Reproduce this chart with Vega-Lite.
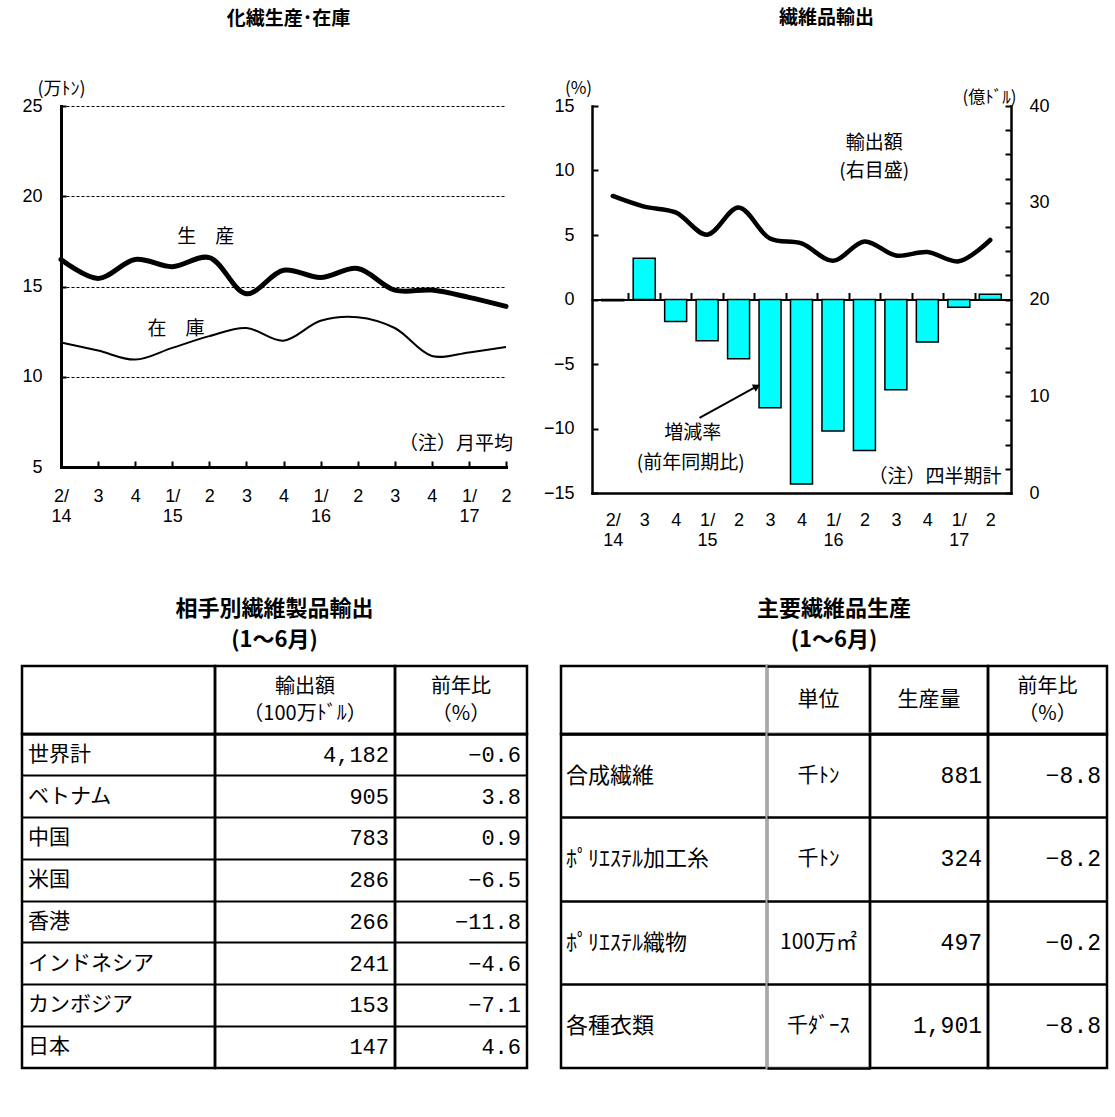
{
  "$schema": "https://vega.github.io/schema/vega-lite/v6.json",
  "autosize": {"type": "none"},
  "padding": {"left": 22, "top": 106, "right": 1093, "bottom": 1011},
  "background": "white",
  "config": {
    "view": {"stroke": null},
    "font": "Noto Sans CJK JP",
    "axis": {"labelColor": "black", "titleColor": "black", "domainColor": "black", "tickColor": "black", "domainCap": "square"},
    "text": {"color": "black"}
  },
  "datasets": {
    "qs": [
      {"idx": 0, "prod": 16.5, "stock": 11.9, "pct": -0.1, "amt": 30.7},
      {"idx": 1, "prod": 15.45, "stock": 11.45, "pct": 3.2, "amt": 29.6},
      {"idx": 2, "prod": 16.5, "stock": 10.95, "pct": -1.7, "amt": 29.0},
      {"idx": 3, "prod": 16.1, "stock": 11.6, "pct": -3.2, "amt": 26.7},
      {"idx": 4, "prod": 16.6, "stock": 12.25, "pct": -4.6, "amt": 29.5},
      {"idx": 5, "prod": 14.6, "stock": 12.7, "pct": -8.4, "amt": 26.3},
      {"idx": 6, "prod": 15.9, "stock": 12.0, "pct": -14.3, "amt": 25.8},
      {"idx": 7, "prod": 15.5, "stock": 13.1, "pct": -10.2, "amt": 24.0},
      {"idx": 8, "prod": 16.0, "stock": 13.3, "pct": -11.7, "amt": 26.0},
      {"idx": 9, "prod": 14.8, "stock": 12.7, "pct": -7.0, "amt": 24.55},
      {"idx": 10, "prod": 14.8, "stock": 11.15, "pct": -3.3, "amt": 24.9},
      {"idx": 11, "prod": 14.4, "stock": 11.35, "pct": -0.6, "amt": 23.95},
      {"idx": 12, "prod": 13.9, "stock": 11.65, "pct": 0.4, "amt": 26.15}
    ],
    "t1": [
      {"name": "世界計", "amt": 4182, "yoy": -0.6},
      {"name": "ベトナム", "amt": 905, "yoy": 3.8},
      {"name": "中国", "amt": 783, "yoy": 0.9},
      {"name": "米国", "amt": 286, "yoy": -6.5},
      {"name": "香港", "amt": 266, "yoy": -11.8},
      {"name": "インドネシア", "amt": 241, "yoy": -4.6},
      {"name": "カンボジア", "amt": 153, "yoy": -7.1},
      {"name": "日本", "amt": 147, "yoy": 4.6}
    ],
    "t2": [
      {"name": "合成繊維", "unit": "千ﾄﾝ", "prod": 881, "yoy": -8.8},
      {"name": "ﾎﾟﾘｴｽﾃﾙ加工糸", "unit": "千ﾄﾝ", "prod": 324, "yoy": -8.2},
      {"name": "ﾎﾟﾘｴｽﾃﾙ織物", "unit": "100万㎡", "prod": 497, "yoy": -0.2},
      {"name": "各種衣類", "unit": "千ﾀﾞｰｽ", "prod": 1901, "yoy": -8.8}
    ],
    "blank": [{}]
  },
  "spacing": 47,
  "vconcat": [
    {
      "bounds": "flush",
      "spacing": 0,
      "hconcat": [
        {"width": 39, "height": 1, "data": {"name": "blank"}, "mark": "text", "encoding": {"text": {"value": ""}}},
        {
          "width": 445,
          "height": 361,
          "title": {"text": "化繊生産･在庫", "frame": "group", "anchor": "middle", "baseline": "middle", "offset": 42, "dx": 5, "fontSize": 19, "fontWeight": "bold", "font": "Noto Sans CJK JP", "color": "black"},
          "resolve": {"axis": {"x": "independent", "y": "independent"}},
          "layer": [
            {
              "data": {"name": "qs"},
              "mark": {"type": "line", "color": "black", "strokeWidth": 5, "interpolate": "catmull-rom", "strokeCap": "round"},
              "encoding": {
                "x": {"field": "idx", "type": "quantitative", "scale": {"domain": [0, 12], "nice": false, "zero": false},
                  "axis": {"values": [0,1,2,3,4,5,6,7,8,9,10,11,12],
                    "labelExpr": "[['2/','14'],['3'],['4'],['1/','15'],['2'],['3'],['4'],['1/','16'],['2'],['3'],['4'],['1/','17'],['2']][datum.value]",
                    "labelFlush": false, "labelOverlap": false, "labelAlign": "center", "labelBaseline": "top", "labelLineHeight": 20,
                    "labelFont": "Liberation Sans", "labelFontSize": 18, "labelPadding": 26,
                    "tickSize": -6, "tickWidth": 2, "domainWidth": 3, "grid": false, "title": null}},
                "y": {"field": "prod", "type": "quantitative", "scale": {"domain": [5, 25], "nice": false, "zero": false},
                  "axis": {"values": [5, 10, 15, 20, 25], "grid": true, "gridDash": [3, 2], "gridColor": "black", "gridWidth": 1, "gridOpacity": 1,
                    "tickSize": -5, "tickWidth": 2, "domainWidth": 3, "labelFont": "Liberation Sans", "labelFontSize": 18, "labelPadding": 24, "labelFlush": false,
                    "title": "(万ﾄﾝ)", "titleAngle": 0, "titleX": 0, "titleY": -17, "titleAlign": "center", "titleBaseline": "middle",
                    "titleFont": "Noto Sans CJK JP", "titleFontSize": 18, "titleFontWeight": "normal"}}
              }
            },
            {
              "data": {"name": "qs"},
              "mark": {"type": "line", "color": "black", "strokeWidth": 2, "interpolate": "catmull-rom"},
              "encoding": {
                "x": {"field": "idx", "type": "quantitative", "scale": {"domain": [0, 12], "nice": false, "zero": false}, "axis": null},
                "y": {"field": "stock", "type": "quantitative", "scale": {"domain": [5, 25], "nice": false, "zero": false}, "axis": null}
              }
            },
            {
              "data": {"values": [
                {"x": 3.9, "y": 17.74, "t": "生　産"},
                {"x": 3.1, "y": 12.67, "t": "在　庫"},
                {"x": 10.65, "y": 6.27, "t": "（注）月平均"}
              ]},
              "mark": {"type": "text", "font": "Noto Sans CJK JP", "fontSize": 19, "color": "black"},
              "encoding": {
                "x": {"field": "x", "type": "quantitative", "scale": {"domain": [0, 12], "nice": false, "zero": false}, "axis": null},
                "y": {"field": "y", "type": "quantitative", "scale": {"domain": [5, 25], "nice": false, "zero": false}, "axis": null},
                "text": {"field": "t"}
              }
            }
          ]
        },
        {"width": 86, "height": 1, "data": {"name": "blank"}, "mark": "text", "encoding": {"text": {"value": ""}}},
        {
          "width": 419,
          "height": 387,
          "title": {"text": "繊維品輸出", "frame": "group", "anchor": "middle", "baseline": "middle", "offset": 42, "dx": 25, "fontSize": 19, "fontWeight": "bold", "font": "Noto Sans CJK JP", "color": "black"},
          "resolve": {"scale": {"y": "independent"}, "axis": {"x": "independent"}},
          "layer": [
            {
              "resolve": {"axis": {"x": "independent", "y": "independent"}},
              "layer": [
                {
                  "data": {"name": "qs"},
                  "mark": {"type": "bar", "size": 22, "fill": "#00FFFF", "stroke": "black", "strokeWidth": 1.5},
                  "encoding": {
                    "x": {"field": "idx", "type": "quantitative", "scale": {"domain": [-0.5, 12.5], "nice": false, "zero": false},
                      "axis": {"orient": "bottom", "values": [0,1,2,3,4,5,6,7,8,9,10,11,12],
                        "labelExpr": "[['2/','14'],['3'],['4'],['1/','15'],['2'],['3'],['4'],['1/','16'],['2'],['3'],['4'],['1/','17'],['2']][datum.value]",
                        "labelFlush": false, "labelOverlap": false, "labelAlign": "center", "labelBaseline": "top", "labelLineHeight": 20,
                        "labelFont": "Liberation Sans", "labelFontSize": 18, "labelPadding": 18,
                        "ticks": false, "domainWidth": 2.5, "grid": false, "title": null}},
                    "y": {"field": "pct", "type": "quantitative", "scale": {"domain": [-15, 15], "nice": false},
                      "axis": {"orient": "left", "values": [-15, -10, -5, 0, 5, 10, 15], "grid": false, "tickSize": -6, "tickWidth": 2, "domainWidth": 2.5,
                        "labelFont": "Liberation Sans", "labelFontSize": 18, "labelPadding": 24, "labelFlush": false,
                        "title": "(%)", "titleAngle": 0, "titleX": -14, "titleY": -18, "titleAlign": "center", "titleBaseline": "middle",
                        "titleFont": "Noto Sans CJK JP", "titleFontSize": 17, "titleFontWeight": "normal"}}
                  }
                },
                {
                  "data": {"values": [
                    {"x": 8.31, "y": 12.12, "t": "輸出額"},
                    {"x": 8.31, "y": 9.95, "t": "(右目盛)"},
                    {"x": 2.54, "y": -10.33, "t": "増減率"},
                    {"x": 2.48, "y": -12.67, "t": "(前年同期比)"},
                    {"x": 10.24, "y": -13.79, "t": "（注）四半期計"}
                  ]},
                  "mark": {"type": "text", "font": "Noto Sans CJK JP", "fontSize": 19, "color": "black"},
                  "encoding": {
                    "x": {"field": "x", "type": "quantitative", "scale": {"domain": [-0.5, 12.5], "nice": false, "zero": false}, "axis": null},
                    "y": {"field": "y", "type": "quantitative", "scale": {"domain": [-15, 15], "nice": false}, "axis": null},
                    "text": {"field": "t"}
                  }
                },
                {
                  "data": {"values": [{"x": 2.76, "y": -9.17, "x2": 4.62, "y2": -6.68}]},
                  "mark": {"type": "rule", "color": "black", "strokeWidth": 2},
                  "encoding": {
                    "x": {"field": "x", "type": "quantitative", "scale": {"domain": [-0.5, 12.5], "nice": false, "zero": false}, "axis": null},
                    "y": {"field": "y", "type": "quantitative", "scale": {"domain": [-15, 15], "nice": false}, "axis": null},
                    "x2": {"field": "x2"},
                    "y2": {"field": "y2"}
                  }
                },
                {
                  "data": {"values": [{"x": 4.55, "y": -6.78}]},
                  "mark": {"type": "point", "shape": "triangle", "angle": 62, "size": 70, "filled": true, "color": "black", "opacity": 1},
                  "encoding": {
                    "x": {"field": "x", "type": "quantitative", "scale": {"domain": [-0.5, 12.5], "nice": false, "zero": false}, "axis": null},
                    "y": {"field": "y", "type": "quantitative", "scale": {"domain": [-15, 15], "nice": false}, "axis": null}
                  }
                }
              ]
            },
            {
              "data": {"name": "qs"},
              "mark": {"type": "line", "color": "black", "strokeWidth": 4.5, "interpolate": "catmull-rom", "strokeCap": "round"},
              "encoding": {
                "x": {"field": "idx", "type": "quantitative", "scale": {"domain": [-0.5, 12.5], "nice": false, "zero": false},
                  "axis": {"orient": "top", "offset": -193.5, "values": [0.5,1.5,2.5,3.5,4.5,5.5,6.5,7.5,8.5,9.5,10.5,11.5],
                    "labels": false, "ticks": true, "tickSize": 7, "tickWidth": 2, "domainWidth": 2, "grid": false, "title": null}},
                "y": {"field": "amt", "type": "quantitative", "scale": {"domain": [0, 40], "nice": false, "zero": false},
                  "axis": {"orient": "right", "values": [0,2.5,5,7.5,10,12.5,15,17.5,20,22.5,25,27.5,30,32.5,35,37.5,40],
                    "labelExpr": "datum.value % 10 === 0 ? datum.label : ''", "labelOverlap": false,
                    "tickSize": -6, "tickWidth": 2, "domainWidth": 2.5, "grid": false,
                    "labelFont": "Liberation Sans", "labelFontSize": 18, "labelPadding": 24, "labelFlush": false,
                    "title": "(億ﾄﾞﾙ)", "titleAngle": 0, "titleX": -22, "titleY": -9, "titleAlign": "center", "titleBaseline": "middle",
                    "titleFont": "Noto Sans CJK JP", "titleFontSize": 17, "titleFontWeight": "normal"}}
              }
            }
          ]
        }
      ]
    },
    {
      "columns": 8,
      "align": "each",
      "bounds": "flush",
      "spacing": 0,
      "concat": [
        {"width": 193, "height": 68, "view": {"stroke": "black", "strokeWidth": 2.5}, "data": {"values": [{"t": ""}]}, "mark": {"type": "text", "lineBreak": "\n", "fontSize": 20, "lineHeight": 27, "font": "Noto Sans CJK JP"}, "encoding": {"text": {"field": "t"}}},
        {"width": 180, "height": 68, "view": {"stroke": "black", "strokeWidth": 2.5},
          "title": {"text": ["相手別繊維製品輸出", "(1～6月)"], "frame": "group", "anchor": "middle", "baseline": "middle", "offset": 4.5, "dx": -30.5, "lineHeight": 31, "fontSize": 22, "fontWeight": "bold", "font": "Noto Sans CJK JP", "color": "black"},
          "data": {"values": [{"t": "輸出額\n（100万ﾄﾞﾙ）"}]}, "mark": {"type": "text", "lineBreak": "\n", "fontSize": 20, "lineHeight": 27, "dy": -13.5, "font": "Noto Sans CJK JP"}, "encoding": {"text": {"field": "t"}}},
        {"width": 132, "height": 68, "view": {"stroke": "black", "strokeWidth": 2.5}, "data": {"values": [{"t": "前年比\n（%）"}]}, "mark": {"type": "text", "lineBreak": "\n", "fontSize": 20, "lineHeight": 27, "dy": -13.5, "font": "Noto Sans CJK JP"}, "encoding": {"text": {"field": "t"}}},
        {"width": 34, "height": 1, "data": {"name": "blank"}, "mark": "text", "encoding": {"text": {"value": ""}}},
        {"width": 206, "height": 68, "view": {"stroke": "black", "strokeWidth": 2.5}, "data": {"values": [{"t": ""}]}, "mark": {"type": "text", "lineBreak": "\n", "fontSize": 21, "lineHeight": 27, "font": "Noto Sans CJK JP"}, "encoding": {"text": {"field": "t"}}},
        {"width": 103, "height": 68, "view": {"stroke": "#a8a8a8", "strokeWidth": 3},
          "title": {"text": ["主要繊維品生産", "(1～6月)"], "frame": "group", "anchor": "middle", "baseline": "middle", "offset": 4.5, "dx": 15.5, "lineHeight": 31, "fontSize": 22, "fontWeight": "bold", "font": "Noto Sans CJK JP", "color": "black"},
          "data": {"values": [{"t": "単位"}]}, "mark": {"type": "text", "lineBreak": "\n", "fontSize": 21, "lineHeight": 27, "font": "Noto Sans CJK JP"},
          "encoding": {
            "text": {"field": "t"},
            "x": {"datum": 0.5, "type": "quantitative", "scale": {"domain": [0, 1]}, "axis": {"orient": "top", "labels": false, "ticks": false, "grid": false, "title": null, "domainWidth": 2.5, "domainColor": "black", "domainCap": "butt"}}
          }},
        {"width": 118, "height": 68, "view": {"stroke": "black", "strokeWidth": 2.5}, "data": {"values": [{"t": "生産量"}]}, "mark": {"type": "text", "lineBreak": "\n", "fontSize": 21, "lineHeight": 27, "font": "Noto Sans CJK JP"}, "encoding": {"text": {"field": "t"}}},
        {"width": 119, "height": 68, "view": {"stroke": "black", "strokeWidth": 2.5}, "data": {"values": [{"t": "前年比\n（%）"}]}, "mark": {"type": "text", "lineBreak": "\n", "fontSize": 20, "lineHeight": 27, "dy": -13.5, "font": "Noto Sans CJK JP"}, "encoding": {"text": {"field": "t"}}},

        {
          "width": 193, "height": 334, "view": {"stroke": "black", "strokeWidth": 2.5},
          "data": {"name": "t1"},
          "mark": {"type": "text", "align": "left", "baseline": "middle", "dx": 6, "font": "Noto Sans CJK JP", "fontSize": 21},
          "encoding": {
            "y": {"field": "name", "type": "nominal", "sort": null, "scale": {"type": "band", "paddingInner": 0, "paddingOuter": 0}, "axis": {"bandPosition": 0, "grid": true, "gridColor": "black", "gridWidth": 2, "gridOpacity": 1, "labels": false, "ticks": false, "domain": false, "title": null}},
            "x": {"datum": 0, "type": "quantitative", "scale": {"domain": [0, 1]}, "axis": null},
            "text": {"field": "name"}
          }
        },
        {
          "width": 180, "height": 334, "view": {"stroke": "black", "strokeWidth": 2.5},
          "data": {"name": "t1"},
          "mark": {"type": "text", "align": "right", "baseline": "middle", "dx": -6, "font": "Liberation Mono", "fontSize": 22},
          "encoding": {
            "y": {"field": "name", "type": "nominal", "sort": null, "scale": {"type": "band", "paddingInner": 0, "paddingOuter": 0}, "axis": {"bandPosition": 0, "grid": true, "gridColor": "black", "gridWidth": 2, "gridOpacity": 1, "labels": false, "ticks": false, "domain": false, "title": null}},
            "x": {"datum": 1, "type": "quantitative", "scale": {"domain": [0, 1]}, "axis": null},
            "text": {"field": "amt", "format": ",d"}
          }
        },
        {
          "width": 132, "height": 334, "view": {"stroke": "black", "strokeWidth": 2.5},
          "data": {"name": "t1"},
          "mark": {"type": "text", "align": "right", "baseline": "middle", "dx": -6, "font": "Liberation Mono", "fontSize": 22},
          "encoding": {
            "y": {"field": "name", "type": "nominal", "sort": null, "scale": {"type": "band", "paddingInner": 0, "paddingOuter": 0}, "axis": {"bandPosition": 0, "grid": true, "gridColor": "black", "gridWidth": 2, "gridOpacity": 1, "labels": false, "ticks": false, "domain": false, "title": null}},
            "x": {"datum": 1, "type": "quantitative", "scale": {"domain": [0, 1]}, "axis": null},
            "text": {"field": "yoy", "format": ".1f"}
          }
        },
        {"width": 34, "height": 1, "data": {"name": "blank"}, "mark": "text", "encoding": {"text": {"value": ""}}},
        {
          "width": 206, "height": 334, "view": {"stroke": "black", "strokeWidth": 2.5},
          "data": {"name": "t2"},
          "mark": {"type": "text", "align": "left", "baseline": "middle", "dx": 5, "font": "Noto Sans CJK JP", "fontSize": 22},
          "encoding": {
            "y": {"field": "name", "type": "nominal", "sort": null, "scale": {"type": "band", "paddingInner": 0, "paddingOuter": 0}, "axis": {"bandPosition": 0, "grid": true, "gridColor": "black", "gridWidth": 2.5, "gridOpacity": 1, "labels": false, "ticks": false, "domain": false, "title": null}},
            "x": {"datum": 0, "type": "quantitative", "scale": {"domain": [0, 1]}, "axis": null},
            "text": {"field": "name"}
          }
        },
        {
          "width": 103, "height": 334, "view": {"stroke": "#a8a8a8", "strokeWidth": 3},
          "data": {"name": "t2"},
          "mark": {"type": "text", "align": "center", "baseline": "middle", "font": "Noto Sans CJK JP", "fontSize": 21},
          "encoding": {
            "y": {"field": "name", "type": "nominal", "sort": null, "scale": {"type": "band", "paddingInner": 0, "paddingOuter": 0}, "axis": {"bandPosition": 0, "grid": true, "gridColor": "black", "gridWidth": 2.5, "gridOpacity": 1, "labels": false, "ticks": false, "domain": false, "title": null}},
            "x": {"datum": 0.5, "type": "quantitative", "scale": {"domain": [0, 1]}, "axis": {"orient": "bottom", "labels": false, "ticks": false, "grid": false, "title": null, "domainWidth": 2.5, "domainColor": "black", "domainCap": "butt"}},
            "text": {"field": "unit"}
          }
        },
        {
          "width": 118, "height": 334, "view": {"stroke": "black", "strokeWidth": 2.5},
          "data": {"name": "t2"},
          "mark": {"type": "text", "align": "right", "baseline": "middle", "dx": -6, "font": "Liberation Mono", "fontSize": 23},
          "encoding": {
            "y": {"field": "name", "type": "nominal", "sort": null, "scale": {"type": "band", "paddingInner": 0, "paddingOuter": 0}, "axis": {"bandPosition": 0, "grid": true, "gridColor": "black", "gridWidth": 2.5, "gridOpacity": 1, "labels": false, "ticks": false, "domain": false, "title": null}},
            "x": {"datum": 1, "type": "quantitative", "scale": {"domain": [0, 1]}, "axis": null},
            "text": {"field": "prod", "format": ",d"}
          }
        },
        {
          "width": 119, "height": 334, "view": {"stroke": "black", "strokeWidth": 2.5},
          "data": {"name": "t2"},
          "mark": {"type": "text", "align": "right", "baseline": "middle", "dx": -6, "font": "Liberation Mono", "fontSize": 23},
          "encoding": {
            "y": {"field": "name", "type": "nominal", "sort": null, "scale": {"type": "band", "paddingInner": 0, "paddingOuter": 0}, "axis": {"bandPosition": 0, "grid": true, "gridColor": "black", "gridWidth": 2.5, "gridOpacity": 1, "labels": false, "ticks": false, "domain": false, "title": null}},
            "x": {"datum": 1, "type": "quantitative", "scale": {"domain": [0, 1]}, "axis": null},
            "text": {"field": "yoy", "format": ".1f"}
          }
        }
      ]
    }
  ]
}
